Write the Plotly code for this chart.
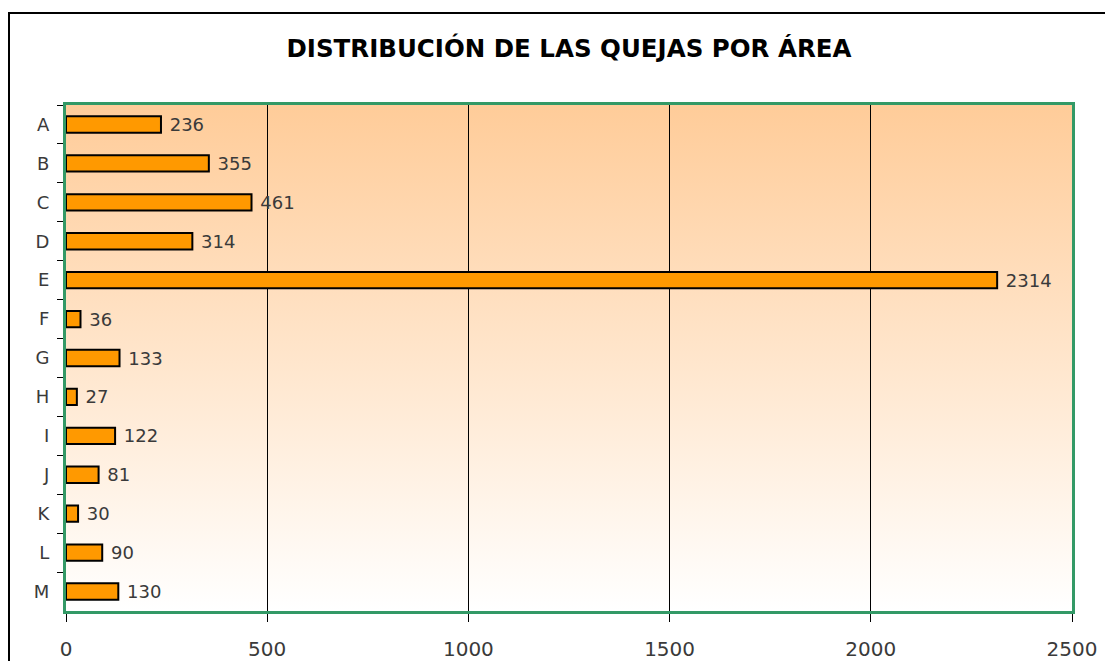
import base64

import plotly.graph_objects as go

# data
areas = ["A", "B", "C", "D", "E", "F", "G", "H", "I", "J", "K", "L", "M"]
quejas = [236, 355, 461, 314, 2314, 36, 133, 27, 122, 81, 30, 90, 130]
x_ticks = [0, 500, 1000, 1500, 2000, 2500]

title_text = "<b>DISTRIBUCIÓN DE LAS QUEJAS POR ÁREA</b>"

# gradient background for the plot area (peach on top, white at bottom)
gradient_svg = (
    '<svg xmlns="http://www.w3.org/2000/svg" width="100" height="100" preserveAspectRatio="none">'
    '<defs><linearGradient id="g" x1="0" y1="0" x2="0" y2="1">'
    '<stop offset="0" stop-color="#FFCC99"/>'
    '<stop offset="1" stop-color="#FFFFFF"/>'
    "</linearGradient></defs>"
    '<rect width="100" height="100" fill="url(#g)"/></svg>'
)
gradient_src = "data:image/svg+xml;base64," + base64.b64encode(gradient_svg.encode()).decode()

fig = go.Figure(
    go.Bar(
        x=quejas,
        y=areas,
        orientation="h",
        width=0.42,
        marker=dict(color="#FF9900", line=dict(color="black", width=2)),
        texttemplate=" %{x}",
        textposition="outside",
        constraintext="none",
        textfont=dict(family="DejaVu Sans", size=18, color="#3a3a3a"),
        cliponaxis=False,
        hoverinfo="x+y",
    )
)

fig.update_layout(
    width=1105,
    height=661,
    margin=dict(l=66, r=33, t=105, b=50),
    paper_bgcolor="white",
    plot_bgcolor="rgba(0,0,0,0)",
    showlegend=False,
    font=dict(family="DejaVu Sans", color="#3a3a3a"),
    title=dict(
        text=title_text,
        x=0.5,
        xref="paper",
        y=1 - 48 / 661,
        yref="container",
        xanchor="center",
        yanchor="middle",
        font=dict(family="DejaVu Sans", size=24.5, color="black"),
    ),
    images=[
        dict(
            source=gradient_src,
            xref="paper",
            yref="paper",
            x=0,
            y=1,
            sizex=1,
            sizey=1,
            sizing="stretch",
            xanchor="left",
            yanchor="top",
            layer="below",
        )
    ],
    xaxis=dict(
        range=[0, 2500],
        tickvals=x_ticks,
        ticks="outside",
        ticklen=8,
        tickcolor="black",
        tickwidth=1,
        ticklabelstandoff=10,
        tickfont=dict(size=20, color="#3a3a3a"),
        showgrid=True,
        gridcolor="black",
        gridwidth=1,
        zeroline=False,
        showline=True,
        linecolor="#339966",
        linewidth=3,
        mirror=True,
        automargin=False,
    ),
    yaxis=dict(
        autorange="reversed",
        ticks="outside",
        tickson="boundaries",
        ticklen=6,
        tickcolor="black",
        tickwidth=1,
        ticklabelstandoff=10,
        tickfont=dict(size=18, color="#3a3a3a"),
        showgrid=False,
        zeroline=False,
        showline=True,
        linecolor="#339966",
        linewidth=3,
        mirror=True,
        automargin=False,
    ),
    bargap=0.58,
)

# outer chart frame (only its top and left edges fall inside the picture)
fig.add_shape(
    type="rect",
    xref="paper",
    yref="paper",
    x0=(9 - 66) / 1006,
    x1=1.2,
    y0=-0.3,
    y1=(611 - 13) / 506,
    line=dict(color="black", width=2),
    fillcolor="rgba(0,0,0,0)",
    layer="above",
)

fig.write_html(
    "out.html",
    config={"displayModeBar": False},
    post_script="document.body.style.margin='0';document.body.style.overflow='hidden';",
)
